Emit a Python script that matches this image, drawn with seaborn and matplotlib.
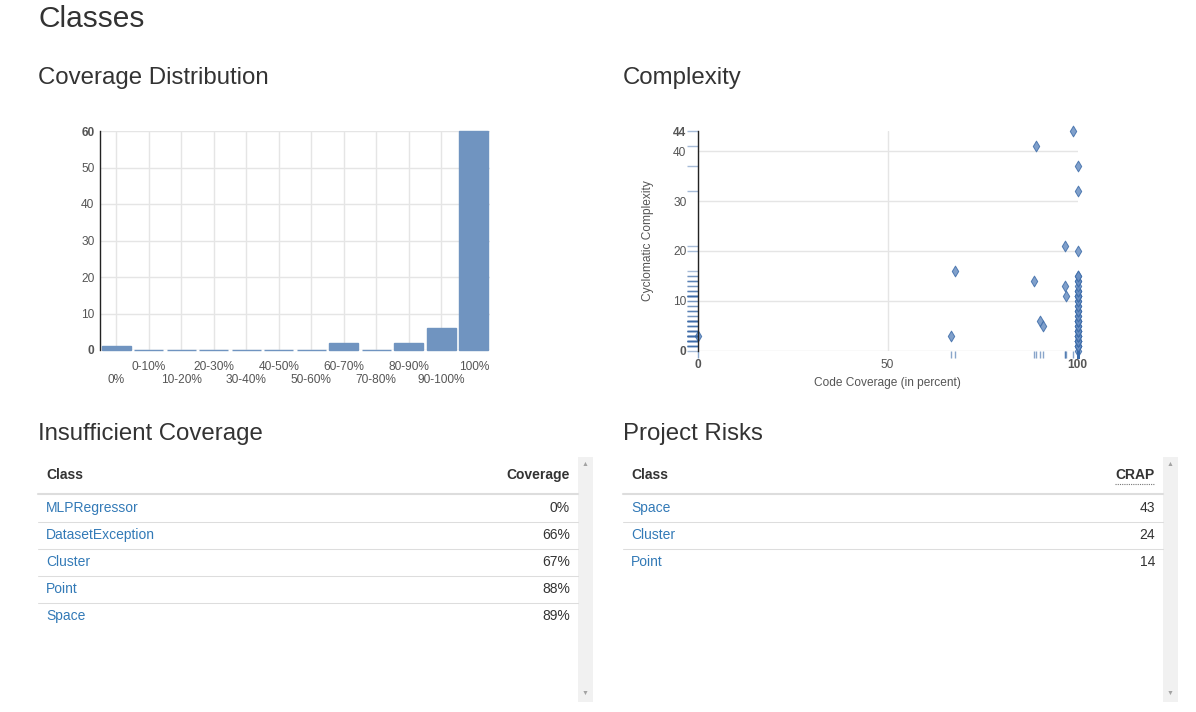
import matplotlib
matplotlib.use("Agg")
import matplotlib.pyplot as plt
from matplotlib.lines import Line2D
from matplotlib.patches import Rectangle
import seaborn as sns

# coverage distribution (classes per bucket)
bins = ["0%", "0-10%", "10-20%", "20-30%", "30-40%", "40-50%", "50-60%",
        "60-70%", "70-80%", "80-90%", "90-100%", "100%"]
class_counts = [1, 0, 0, 0, 0, 0, 0, 2, 0, 2, 6, 60]

# complexity scatter: one point per class
full_cov_complexity = ([0] + [1] * 5 + [2] * 7 + [3] * 6 + [4] * 6 + [5] * 3 + [6] * 6
                       + [7] * 2 + [8] * 3 + [9] * 2 + [10] * 2 + [11] * 6 + [12] * 3
                       + [13] + [14] * 2 + [15] * 2 + [20, 32, 37])
partial_cov = [0, 66.6, 67.7, 88.5, 89.0, 90.0, 90.9, 96.6, 96.7, 97.0, 98.7]
partial_complexity = [3, 3, 16, 14, 41, 6, 5, 21, 13, 11, 44]
coverage = partial_cov + [100] * len(full_cov_complexity)
complexity = partial_complexity + full_cov_complexity

# tables
low_cov_classes = ["MLPRegressor", "DatasetException", "Cluster", "Point", "Space"]
low_cov_values = ["0%", "66%", "67%", "88%", "89%"]
risk_classes = ["Space", "Cluster", "Point"]
risk_crap = [43, 24, 14]

W, H = 1196, 712
sns.set_theme(style="white")
plt.rcParams["font.family"] = ["Liberation Sans", "DejaVu Sans"]

fig = plt.figure(figsize=(W / 100, H / 100), dpi=100)


def fx(px):
    return px / W


def fy(py):
    return 1 - py / H


def hline(x0, x1, y, color="#dddddd", lw=0.75, ls="-"):
    fig.add_artist(Line2D([fx(x0), fx(x1)], [fy(y), fy(y)], color=color, lw=lw, ls=ls))


txt = "#333333"
tick_c = "#555555"
link = "#337ab7"

fig.text(fx(38), fy(19), "Classes", fontsize=21.5, color=txt, va="center")
fig.text(fx(38), fy(78), "Coverage Distribution", fontsize=17.3, color=txt, va="center")
fig.text(fx(623), fy(78), "Complexity", fontsize=17.3, color=txt, va="center")
fig.text(fx(38), fy(434), "Insufficient Coverage", fontsize=17.3, color=txt, va="center")
fig.text(fx(623), fy(434), "Project Risks", fontsize=17.3, color=txt, va="center")

# ---- histogram ----
ax1 = fig.add_axes([fx(100), fy(350), fx(390), 219 / H])
sns.barplot(x=bins, y=class_counts, color="#7094c0", saturation=1, width=0.9,
            edgecolor="#7094c0", linewidth=1.0, ax=ax1)
for p in ax1.patches:
    p.set_clip_on(False)
ax1.set_xlim(-0.5, 11.5)
ax1.set_ylim(0, 60)
ax1.set_yticks(range(0, 61, 10))
ax1.grid(True, color="#e5e5e5", lw=1)
ax1.set_axisbelow(True)
for s in ["top", "right", "bottom"]:
    ax1.spines[s].set_visible(False)
ax1.spines["left"].set_color("#222222")
ax1.spines["left"].set_linewidth(1)
ax1.tick_params(length=0, labelsize=8.6, labelcolor=tick_c)
ax1.tick_params(axis="y", pad=4)
ax1.set_xticks(range(len(bins)))
ax1.set_xticklabels(bins)
# staggered labels: even buckets on the lower row
for i, t in enumerate(ax1.xaxis.get_major_ticks()):
    t.set_pad(17 if i % 2 == 0 else 8)
for t in ax1.get_yticklabels():
    if t.get_text() in ("0", "60"):
        t.set_fontweight("bold")
ax1.set_xlabel("")
ax1.set_ylabel("")

# ---- complexity scatter ----
ax2 = fig.add_axes([fx(697.5), fy(351), fx(380), 220 / H])
sns.rugplot(y=complexity, ax=ax2, height=-0.027, clip_on=False, color="#3a6aa8",
            alpha=0.45, lw=1.6, expand_margins=False)
sns.rugplot(x=coverage, ax=ax2, height=-0.032, clip_on=False, color="#3a6aa8",
            alpha=0.6, lw=1.6, expand_margins=False)
sns.scatterplot(x=coverage, y=complexity, marker="d", s=30, color="#6a8fc2",
                edgecolor="#3d6ca9", linewidth=0.7, alpha=0.85, clip_on=False, ax=ax2)
ax2.set_xlim(0, 100)
ax2.set_ylim(0, 44)
ax2.set_xticks([0, 50], labels=["0", "50"])
ax2.set_xticks([100], labels=["100"], minor=True)
ax2.set_yticks([0, 10, 20, 30, 40], labels=["0", "10", "20", "30", "40"])
ax2.set_yticks([44], labels=["44"], minor=True)
ax2.grid(True, which="major", color="#e5e5e5", lw=1)
ax2.set_axisbelow(True)
for s in ["top", "right", "bottom"]:
    ax2.spines[s].set_visible(False)
ax2.spines["left"].set_color("#222222")
ax2.spines["left"].set_linewidth(1)
ax2.tick_params(which="both", length=0, labelsize=8.6, labelcolor=tick_c)
ax2.tick_params(axis="y", which="both", pad=8)
ax2.tick_params(axis="x", which="both", pad=6)
for t in ax2.get_xticklabels(minor=True) + ax2.get_yticklabels(minor=True):
    t.set_fontweight("bold")
ax2.get_xticklabels()[0].set_fontweight("bold")
ax2.get_yticklabels()[0].set_fontweight("bold")
ax2.set_xlabel("Code Coverage (in percent)", fontsize=8.6, color=tick_c, labelpad=4)
ax2.set_ylabel("Cyclomatic Complexity", fontsize=8.6, color=tick_c, labelpad=14)


# ---- tables ----
def draw_table(x0, x1, head_r, names, vals, underline=False):
    fig.text(fx(x0 + 8), fy(475), "Class", fontsize=10, fontweight="bold", color=txt, va="center")
    fig.text(fx(x1 - 8), fy(475), head_r, fontsize=10, fontweight="bold", color=txt,
             va="center", ha="right")
    if underline:
        hline(x1 - 48, x1 - 8, 484, color="#777777", lw=0.8, ls=(0, (1, 1)))
    hline(x0, x1, 494, lw=1.5)
    for i, (n, v) in enumerate(zip(names, vals)):
        y = 508 + 27 * i
        fig.text(fx(x0 + 8), fy(y), n, fontsize=10, color=link, va="center")
        fig.text(fx(x1 - 8), fy(y), str(v), fontsize=10, color=txt, va="center", ha="right")
        if i < len(names) - 1:
            hline(x0, x1, y + 13.5)
    # scrollbar
    fig.add_artist(Rectangle((fx(x1), fy(702)), fx(15), 245 / H, transform=fig.transFigure,
                             facecolor="#f1f1f1", edgecolor="none"))
    fig.text(fx(x1 + 7.5), fy(464), "\u25b2", fontsize=5, color="#a3a3a3", ha="center", va="center")
    fig.text(fx(x1 + 7.5), fy(693), "\u25bc", fontsize=5, color="#a3a3a3", ha="center", va="center")


draw_table(38, 578, "Coverage", low_cov_classes, low_cov_values)
draw_table(623, 1163, "CRAP", risk_classes, risk_crap, underline=True)

fig.savefig("out.png", dpi=100)
